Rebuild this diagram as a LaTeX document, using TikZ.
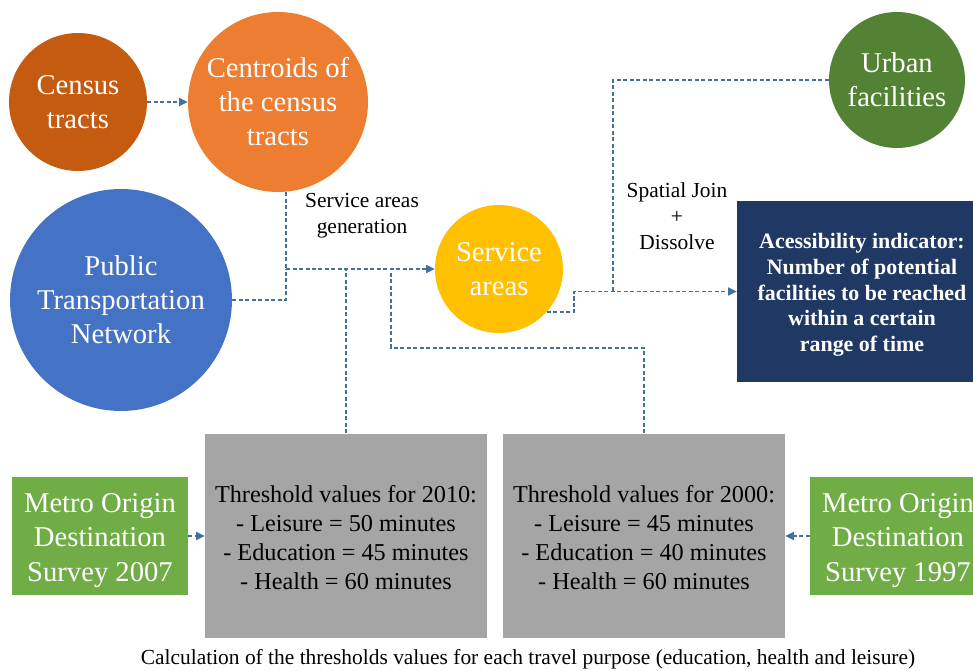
\documentclass[tikz,border=0pt]{standalone}
\usepackage{fontspec}
\setmainfont{Liberation Serif}
\usetikzlibrary{arrows.meta}
\definecolor{cA}{HTML}{C55A11}
\definecolor{cB}{HTML}{ED7D31}
\definecolor{cC}{HTML}{4472C4}
\definecolor{cD}{HTML}{FFC000}
\definecolor{cE}{HTML}{548235}
\definecolor{cF}{HTML}{203864}
\definecolor{cG}{HTML}{A5A5A5}
\definecolor{cH}{HTML}{70AD47}
\definecolor{cL}{HTML}{41719C}
\tikzset{
  bub/.style={circle,inner sep=0pt,text=white,align=center,font=\fontsize{16.3}{19.35}\selectfont},
  gbox/.style={rectangle,inner sep=0pt,fill=cG,minimum width=5.64cm,minimum height=4.1cm,align=center,font=\fontsize{13.8}{16.5}\selectfont},
  sbox/.style={rectangle,inner sep=0pt,fill=cH,text=white,minimum width=3.52cm,minimum height=2.36cm,align=center,font=\fontsize{16.3}{19.6}\selectfont},
  lbl/.style={align=center,font=\fontsize{12.2}{14.8}\selectfont},
  conn/.style={draw=cL,line width=0.7pt,dash pattern=on 0.08cm off 0.05cm},
  arr/.style={-{Triangle[length=1.7mm,width=1.6mm]}}
}
\begin{document}
\begin{tikzpicture}[x={(0.02cm,0)},y={(0,-0.02cm)}]
\clip (0,0) rectangle (973,671);
\fill[white] (0,0) rectangle (973,671);
% circles
\node[bub,fill=cA,minimum size=2.76cm] (census) at (78,102) {Census\\tracts};
\node[bub,fill=cB,minimum size=3.6cm] (centroids) at (278,102) {Centroids of\\the census\\tracts};
\node[bub,fill=cC,minimum size=4.44cm] (ptn) at (121,300) {Public\\Transportation\\Network};
\node[bub,fill=cD,minimum size=2.56cm] (service) at (499,269) {Service\\areas};
\node[bub,fill=cE,minimum size=2.72cm] (urban) at (897,80) {Urban\\facilities};
% boxes
\node[rectangle,inner sep=0pt,fill=cF,text=white,minimum width=5.0cm,minimum height=3.62cm,align=center,font=\bfseries\fontsize{12.5}{14.6}\selectfont] (acc) at (862,291.5) {\rule{0pt}{12.5pt}Acessibility indicator:\\Number of potential\\facilities to be reached\\within a certain\\range of time};
\node[gbox] (gray1) at (346,536) {\rule{0pt}{11.5pt}Threshold values for 2010:\\- Leisure = 50 minutes\\- Education = 45 minutes\\- Health = 60 minutes};
\node[gbox] (gray2) at (644,536) {\rule{0pt}{11.5pt}Threshold values for 2000:\\- Leisure = 45 minutes\\- Education = 40 minutes\\- Health = 60 minutes};
\node[sbox] (green1) at (100,536) {\rule{0pt}{16pt}Metro Origin\\Destination\\Survey 2007};
\node[sbox] (green2) at (898,536) {\rule{0pt}{16pt}Metro Origin\\Destination\\Survey 1997};
% labels
\node[lbl] (sag) at (362,216) {Service areas\\generation};
\node[lbl] (sjd) at (677,216) {Spatial Join\\+\\Dissolve};
\node[lbl] (cap) at (528,659) {Calculation of the thresholds values for each travel purpose (education, health and leisure)};
% junctions
\coordinate (j1) at (286,269);
\coordinate (j2) at (391,348);
\coordinate (j3) at (574,300);
\coordinate (j4) at (613,291.5);
% connectors
\draw[conn,arr] (census) -- (centroids);
\draw[conn] (j1 |- centroids.south) -- (j1);
\draw[conn] (ptn) -| (j1);
\draw[conn,arr] (j1) -- (service);
\draw[conn] (gray1.north) -- (gray1.north |- j1);
\draw[conn] (gray2.north) |- (j2) -- (j2 |- j1);
\draw[conn,arr] (service.-42) -| (j3) |- (acc.west);
\draw[conn] (urban.west) -| (j4);
\draw[conn,arr] (green1) -- (gray1);
\draw[conn,arr] (green2) -- (gray2);
\end{tikzpicture}
\end{document}
